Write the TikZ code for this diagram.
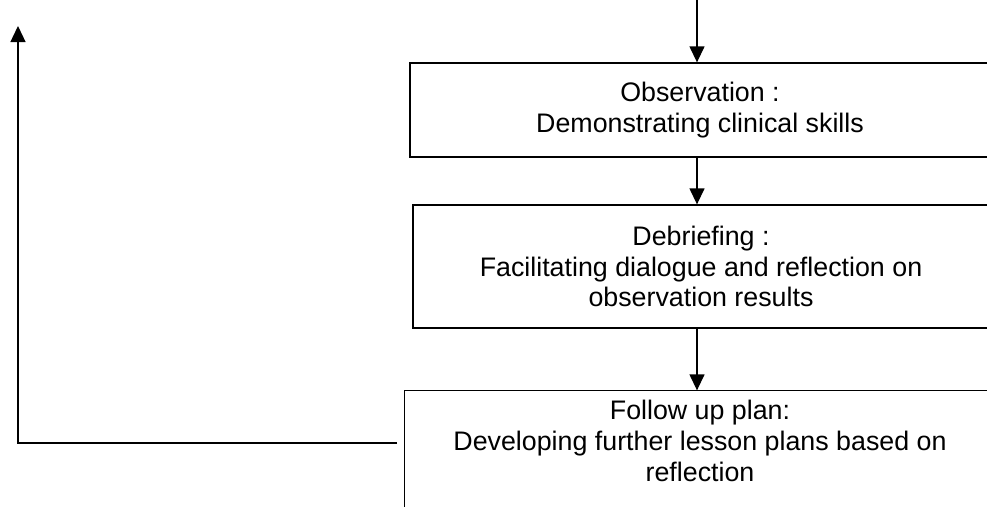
\documentclass[tikz,border=0pt]{standalone}
\usepackage{fontspec}
\setmainfont{Liberation Sans}
\usetikzlibrary{arrows.meta,positioning}

\begin{document}
\begin{tikzpicture}[x=1pt, y=-1pt, line width=1.3pt,
        stage/.style={draw, align=center, font=\fontsize{26.8}{30.8}\selectfont, inner sep=0pt},
        flow/.style={-{Triangle[length=16pt, width=15pt]}}]
        \useasboundingbox (0,0) rectangle (987,506);
        \clip (0,0) rectangle (987,506);

        \coordinate (in) at (697,-5);
        \coordinate (bot) at (0,530);

        \node[stage, minimum width=580, minimum height=94] (obs) at (700,110)
            {Observation :\\Demonstrating clinical skills};
        \node[stage, minimum width=576, minimum height=123] (deb) at (701,266.5)
            {Debriefing :\\Facilitating dialogue and reflection on\\observation results};
        \node[stage, draw=none, minimum width=590, minimum height=100] (fu) at (700,441)
            {Follow up plan:\\Developing further lesson plans based on\\reflection};
        \draw (fu.north east) -- (fu.north west) -- (fu.west |- bot);

        \draw[flow] (in) -- (in |- obs.north);
        \draw[flow] (in |- obs.south) -- (in |- deb.north);
        \draw[flow] (in |- deb.south) -- (in |- fu.north);

        \coordinate (back) at (397,443);
        \coordinate (corner) at (18,443);
        \coordinate (up) at (18,26);
        \draw[flow] (back) -- (corner) -- (up);
    \end{tikzpicture}
\end{document}
